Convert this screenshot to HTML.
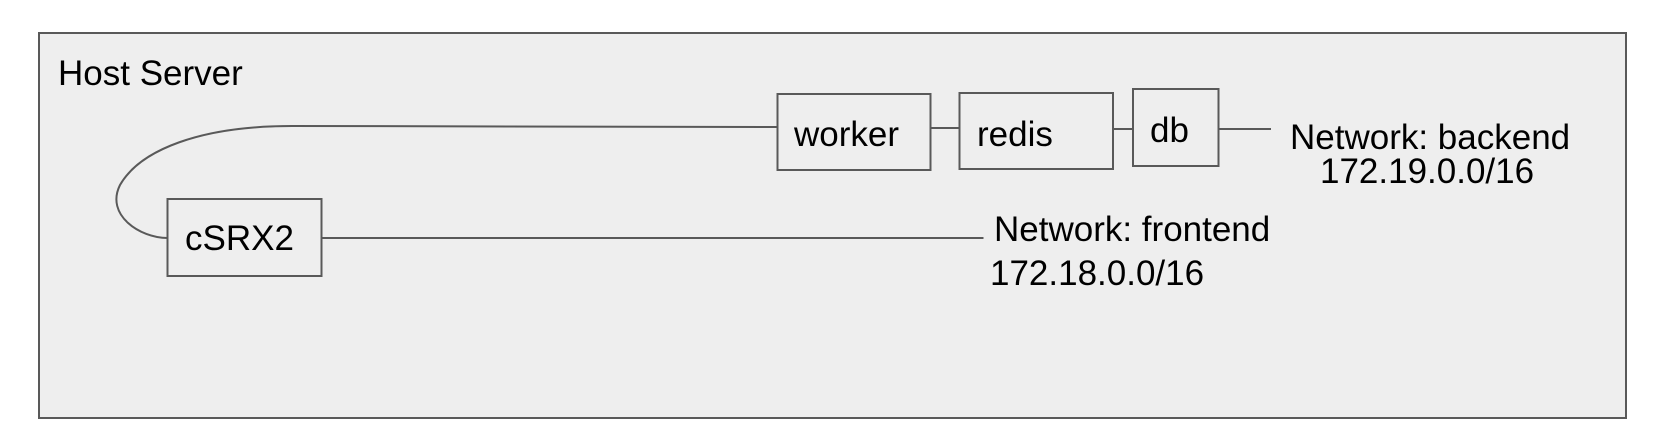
<!DOCTYPE html>
<html><head><style>html,body{margin:0;padding:0;background:#fff}svg{display:block}</style></head>
<body>
<svg width="1662" height="444" viewBox="0 0 1662 444" xmlns="http://www.w3.org/2000/svg" font-family="Liberation Sans, Arial, sans-serif" font-size="35" fill="#000">
<rect x="39" y="33" width="1587" height="385" fill="#eeeeee" stroke="#595959" stroke-width="2"/>
<text x="58" y="85">Host Server</text>
<g fill="#eeeeee" stroke="#595959" stroke-width="2">
<rect x="777.5" y="94" width="153" height="76"/>
<rect x="959.5" y="93" width="153.5" height="76"/>
<rect x="1133" y="89" width="85.5" height="77"/>
<rect x="167.5" y="199" width="154" height="77"/>
</g>
<g stroke="#595959" stroke-width="2" fill="none">
<line x1="930.5" y1="128" x2="959.5" y2="128"/>
<line x1="1113" y1="129" x2="1133" y2="129"/>
<line x1="1218.5" y1="129" x2="1271" y2="129"/>
<path d="M777.5 127 L292 126 C200 126 140 150 120 185 C105 215 140 238 167.5 238"/>
<line x1="321.5" y1="238" x2="983.5" y2="238"/>
</g>
<text x="794" y="146">worker</text>
<text x="977" y="146">redis</text>
<text x="1150" y="142">db</text>
<text x="185" y="250">cSRX2</text>
<text x="1290" y="149">Network: backend</text>
<text x="1320" y="183">172.19.0.0/16</text>
<text x="994" y="241">Network: frontend</text>
<text x="990" y="285">172.18.0.0/16</text>
</svg>
</body></html>
